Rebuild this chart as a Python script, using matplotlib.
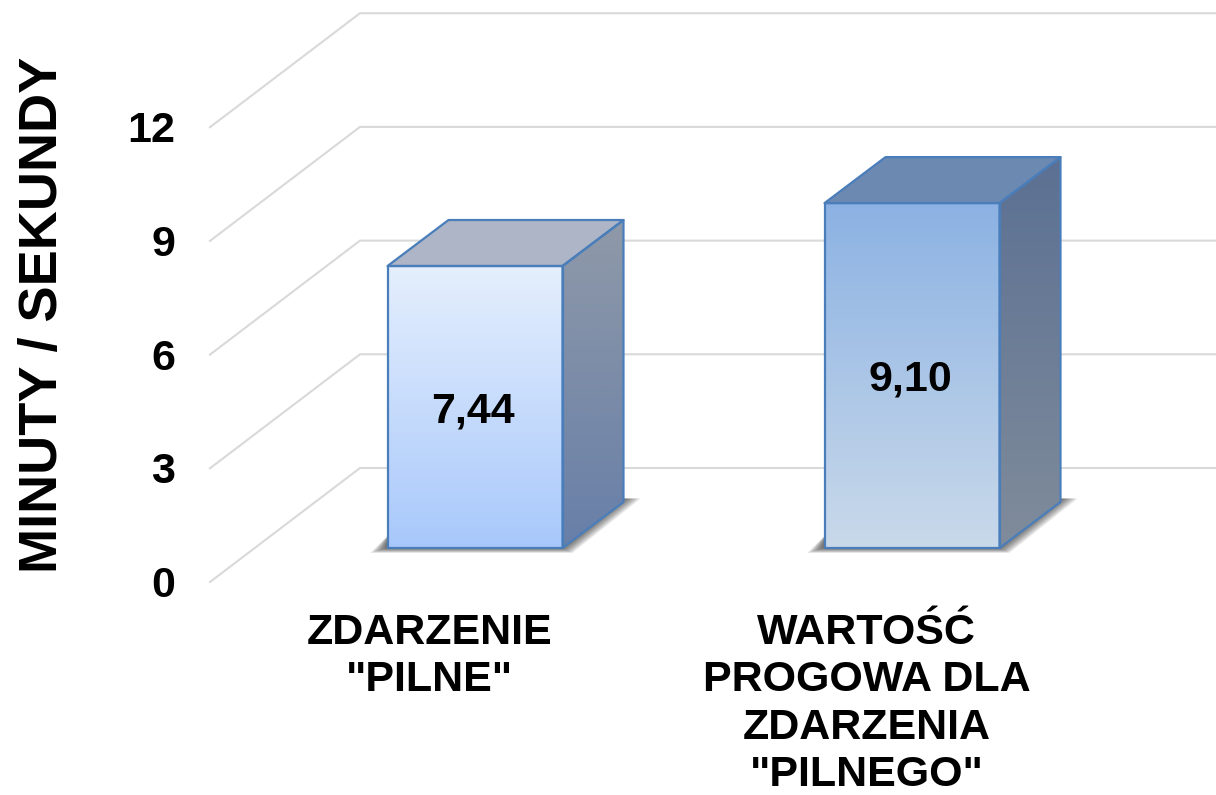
#!/usr/bin/env python3

import numpy as np
import matplotlib
matplotlib.use("Agg")
import matplotlib.pyplot as plt
from matplotlib.colors import LinearSegmentedColormap
from matplotlib.patches import Polygon

plt.rcParams['font.family'] = ['Liberation Sans', 'DejaVu Sans']
plt.rcParams['font.weight'] = 'bold'

categories = ['ZDARZENIE\n"PILNE"', 'WARTOŚĆ\nPROGOWA DLA\nZDARZENIA\n"PILNEGO"']
values = [7.44, 9.10]
y_ticks = [0, 3, 6, 9, 12]
y_label = "MINUTY / SEKUNDY"

W, H = 1216, 795
PX_X = 437.0   # pixels per category
PX_Y = 37.9    # pixels per minute
BAR_W = 175 / PX_X

front_colors = [("#e5effd", "#a8c8fb"), ("#8cb2e3", "#c9d9ea")]
side_colors = [("#8f99a8", "#687fa8"), ("#5b7093", "#808c9b")]
top_colors = ["#adb5c6", "#6c89b1"]
edge = "#4a7ebb"
grid_c = "#d9d9d9"

fig = plt.figure(figsize=(W / 100, H / 100), dpi=100)
ax = fig.add_axes([0, 0, 1, 1])
xlim = (-475 / PX_X, (W - 475) / PX_X)
ylim = (-(H - 548) / PX_Y, 548 / PX_Y)


def dx(px):
    return px / PX_X


def dy(px):
    return px / PX_Y


def gradient_poly(pts, c_top, c_bottom, z):
    # vertical gradient clipped to a polygon
    pts = np.array(pts)
    cmap = LinearSegmentedColormap.from_list("g", [c_bottom, c_top])
    grad = np.linspace(0, 1, 256).reshape(-1, 1)
    im = ax.imshow(grad, origin="lower", cmap=cmap, aspect="auto", zorder=z,
                   extent=(pts[:, 0].min(), pts[:, 0].max(), pts[:, 1].min(), pts[:, 1].max()))
    clip = Polygon(pts, closed=True, transform=ax.transData, fc="none", ec="none")
    ax.add_patch(clip)
    im.set_clip_path(clip)


# wall / floor grid
for v in y_ticks:
    ax.plot([dx(210 - 475), dx(360 - 475), xlim[1]],
            [v - dy(34), v + dy(80), v + dy(80)],
            color=grid_c, lw=1.5, zorder=1, solid_joinstyle="miter")
    ax.text(dx(175 - 475), v - dy(33.5), str(v), ha="right", va="center_baseline",
            fontsize=31, color="black")

d_x, d_y = dx(61), dy(46)

for i, v in enumerate(values):
    x0, x1 = i - BAR_W / 2, i + BAR_W / 2

    # soft shadow under the bar
    for g in range(10):
        sh = [(x0 - dx(3 + 1.6 * g), dy(-0.5 - 0.5 * g)), (x1 + dx(1 + g), dy(-0.5 - 0.5 * g)),
              (x1 + d_x + dx(3 + 1.6 * g), d_y + dy(3.5)), (x1 + d_x, d_y + dy(3.5)),
              (x0 + dx(2), dy(14))]
        ax.add_patch(Polygon(sh, closed=True, fc="black", ec="none", alpha=0.07, zorder=2))

    front = [(x0, 0), (x1, 0), (x1, v), (x0, v)]
    side = [(x1, 0), (x1 + d_x, d_y), (x1 + d_x, v + d_y), (x1, v)]
    top = [(x0, v), (x1, v), (x1 + d_x, v + d_y), (x0 + d_x, v + d_y)]

    gradient_poly(front, front_colors[i][0], front_colors[i][1], 3)
    gradient_poly(side, side_colors[i][0], side_colors[i][1], 3)
    ax.add_patch(Polygon(top, closed=True, fc=top_colors[i], ec="none", zorder=3))
    for poly in (front, side, top):
        ax.add_patch(Polygon(poly, closed=True, fc="none", ec=edge, lw=1.6, zorder=4,
                             joinstyle="round"))

    ax.text(i - dx(2), v / 2 - dy(4), f"{v:.2f}".replace(".", ","), ha="center", va="center",
            fontsize=31, color="black", zorder=5)
    ax.text(i - dx(45.5), dy(-65), categories[i], ha="center", va="top", fontsize=31,
            color="black", linespacing=1.24, zorder=5)

fig.text(43 / W, 1 - 314.5 / H, y_label, rotation=90, ha="center", va="center",
         fontsize=39, color="black")

ax.set_xlim(xlim)
ax.set_ylim(ylim)
ax.axis("off")
fig.savefig("out.png", dpi=100)
